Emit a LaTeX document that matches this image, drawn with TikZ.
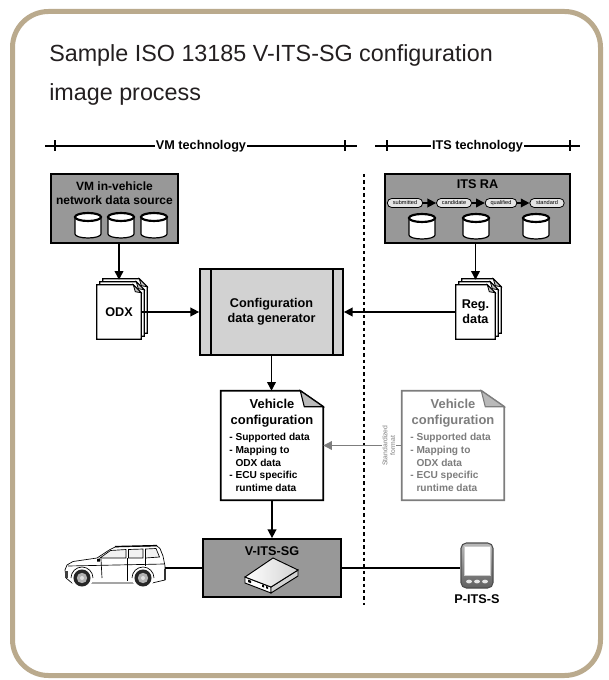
\documentclass[tikz,border=0pt]{standalone}
\usepackage{fontspec}
\setmainfont{Liberation Sans}
\usetikzlibrary{arrows.meta,positioning,calc,backgrounds}

\definecolor{frametan}{RGB}{186,170,141}
\definecolor{boxgray}{RGB}{152,152,152}
\definecolor{genfill}{RGB}{210,210,210}
\definecolor{ghost}{RGB}{125,125,125}
\definecolor{ink}{RGB}{35,31,32}

% one page of a document stack, shifted by (#2,-#3) from node #1
\newcommand{\pagesheet}[3]{%
  \draw[sheet] ($(#1.north west)+(#2,-#3)$) -- ($(#1.north east)+(#2-8,-#3)$)
    -- ($(#1.north east)+(#2,8-#3)$) -- ($(#1.south east)+(#2,-#3)$)
    -- ($(#1.south west)+(#2,-#3)$) -- cycle;
  \filldraw[fill=gray!50, line width=0.6pt] ($(#1.north east)+(#2-8,-#3)$)
    -- ($(#1.north east)+(#2-6,7-#3)$) -- ($(#1.north east)+(#2,8-#3)$) -- cycle;}

% database drum centred at (#1,#2)
\newcommand{\dbdrum}[2]{%
  \draw[drum] (#1-13,#2-8) -- (#1-13,#2+9)
    arc[start angle=180, end angle=360, x radius=9.75pt, y radius=3pt]
    -- (#1+13,#2-8) -- cycle;
  \draw[drum, line width=1.6pt] (#1,#2-8) ellipse[x radius=9.75pt, y radius=3pt];}

% text of the vehicle configuration sheets
\newcommand{\cfgbody}{%
  {\centering\fontsize{9.7}{12}\selectfont Vehicle\\configuration\par}
  \vspace{2.5pt}
  {\fontsize{7.6}{9.5}\selectfont - Supported data\\- Mapping to\\\hphantom{- }ODX data\\
   - ECU specific\\\hphantom{- }runtime data\par}}

\begin{document}
\begin{tikzpicture}[x=0.75pt, y=-0.75pt,
  box/.style={draw, line width=1.3pt, fill=boxgray, inner sep=0pt},
  lbl/.style={font=\fontsize{9.5}{11.5}\selectfont\bfseries, align=center, inner sep=1pt},
  sheet/.style={draw, fill=white, line width=1pt},
  drum/.style={draw, fill=white, line width=0.9pt},
  pill/.style={draw, line width=0.6pt, fill=gray!20, rounded corners=3.3pt,
    minimum height=6.75pt, inner sep=0pt, font=\fontsize{4.2}{5}\selectfont},
  flow/.style={line width=1.1pt, -{Triangle[length=6.5pt, width=6.5pt]}},
  link/.style={line width=1.1pt},
  techline/.style={line width=1.4pt},
  techlabel/.style={fill=white, inner sep=0.6pt, font=\fontsize{9.5}{11}\selectfont\bfseries},
  divider/.style={line width=2pt, dash pattern=on 2.6pt off 2.2pt},
  cfgsheet/.style={minimum width=76.5pt, minimum height=81.75pt, text width=64pt,
    align=flush left, inner sep=0pt, font=\bfseries}]

\useasboundingbox (0,0) rectangle (608,680);
\draw[frametan, line width=3.75pt, rounded corners=27pt] (12.5,11.5) rectangle (600.5,675.5);

% title
\node[anchor=base west, inner sep=0pt, text=ink, font=\fontsize{17.5}{21}\selectfont] (title) at (49,62)
  {Sample ISO 13185 V-ITS-SG configuration};
\node[anchor=base west, inner sep=0pt, text=ink, font=\fontsize{17.5}{21}\selectfont] (title-2) at (49,101)
  {image process};

% technology ranges
\draw[techline] (45,146) -- node[techlabel] (vmtech) {VM technology} (357,146);
\draw[techline] (375,146) -- node[techlabel] (itstech) {ITS technology} (580,146);
\foreach \x in {55,345,387,570}
  \draw[techline] (\x,140.5) -- (\x,151.5);

\draw[divider] (364,174) -- (364,605);

% VM data source
\node[box, minimum width=95.25pt, minimum height=51.75pt] (vmsrc) at (114.5,208.5) {};
\node[lbl, font=\fontsize{9}{10.5}\selectfont\bfseries, below=5pt of vmsrc.north] (vmsrc-title)
  {VM in-vehicle\\network data source};
\foreach \x in {88,121,154} {\dbdrum{\x}{225}}

% ITS registration authority
\node[box, minimum width=138.75pt, minimum height=51.75pt] (itsra) at (477.5,208.5) {};
\node[lbl, below=4pt of itsra.north] (itsra-title) {ITS RA};
\node[pill, minimum width=26.5pt] (st-sub) at (405,203) {submitted};
\node[pill, minimum width=26.25pt] (st-cand) at (454,203) {candidate};
\node[pill, minimum width=23.75pt] (st-qual) at (501,203) {qualified};
\node[pill, minimum width=25.75pt] (st-std) at (547,203) {standard};
\draw[flow] (st-sub) -- (st-cand);
\draw[flow] (st-cand) -- (st-qual);
\draw[flow] (st-qual) -- (st-std);
\foreach \x in {422,476,536} {\dbdrum{\x}{226}}

% documents
\node[lbl, minimum width=33pt, minimum height=40.5pt] (odx) at (119,312) {ODX};
\node[lbl, minimum width=29.25pt, minimum height=40.5pt] (regdata) at (475.5,312) {Reg.\\data};
\node[box, fill=genfill, minimum width=107.25pt, minimum height=64.5pt, lbl] (cfggen) at (271.5,312)
  {Configuration\\data generator};
\draw[line width=1.3pt] ($(cfggen.north west)+(12,0)$) -- ($(cfggen.south west)+(12,0)$);
\draw[line width=1.3pt] ($(cfggen.north east)+(-11,0)$) -- ($(cfggen.south east)+(-11,0)$);

\node[cfgsheet] (vehcfg) at (272,445.5) {\cfgbody};
\node[cfgsheet, text=ghost] (stdcfg) at (453,445.5) {\cfgbody};

\begin{scope}[on background layer]
  \foreach \nd in {odx,regdata}
    \foreach \shft in {6,3,0} {\pagesheet{\nd}{\shft}{\shft}}
  \foreach \nd/\col in {vehcfg/black, stdcfg/ghost} {
    \draw[sheet, draw=\col, line width=1.3pt] (\nd.north west) -- ($(\nd.north east)+(-23,0)$)
      -- ($(\nd.north east)+(0,16)$) -- (\nd.south east) -- (\nd.south west) -- cycle;
    \filldraw[draw=\col, fill=gray!55, line width=0.8pt] ($(\nd.north east)+(-23,0)$)
      -- ($(\nd.north east)+(-19,16)$) -- ($(\nd.north east)+(0,16)$) -- cycle;
  }
\end{scope}

% gateway
\node[box, minimum width=103.5pt, minimum height=43.5pt] (vitssg) at (272,568) {};
\node[lbl, below=5pt of vitssg.north] (vitssg-title) {V-ITS-SG};
\begin{scope}[shift={(271,578)}, line width=0.7pt]
  \filldraw[fill=white] (-26,-1) -- (0,9) -- (0,15) -- (-26,5) -- cycle;
  \filldraw[fill=gray!35] (0,9) -- (27,-8) -- (27,-2) -- (0,15) -- cycle;
  \filldraw[left color=white, right color=gray!35] (-26,-1) -- (2,-20) -- (27,-8) -- (0,9) -- cycle;
  \fill (-23,1.5) -- (-20,2.7) -- (-20,5.2) -- (-23,4) -- cycle;
  \fill (-9,6.5) -- (-7,7.3) -- (-7,9.5) -- (-9,8.7) -- cycle;
  \fill (-5,8) -- (-3,8.8) -- (-3,11) -- (-5,10.2) -- cycle;
\end{scope}

% vehicle
\node[minimum width=75pt, minimum height=30pt, inner sep=0pt] (car) at (115,568) {};
\begin{scope}[line width=0.5pt]
  \filldraw[fill=white] (66,578) -- (65,570) -- (67,565) -- (73,561.5) -- (97,558) -- (110,549.5)
    -- (115,547) -- (157,546) -- (160,548.5) -- (163,556) -- (165,566) -- (165,580)
    -- (152,583) -- (72,583) -- cycle;
  \filldraw[fill=gray!10] (100,558) -- (110.5,550.5) -- (126,549.5) -- (126,558) -- cycle;
  \filldraw[fill=gray!10] (128.5,549.5) -- (143,549) -- (143,558) -- (128.5,558) -- cycle;
  \filldraw[fill=gray!10] (145.5,549) -- (156,548.5) -- (159.5,557) -- (145.5,558) -- cycle;
  \draw (68,566) -- (164,564);
  \draw (101,559) -- (102,578);
  \draw (127,558) -- (127,581);
  \draw (145,558) -- (145,566);
  \draw[line width=0.9pt] (115,546.5) -- (157,545.5);
  \fill[black!80] (163.5,569) rectangle (166,580);
  \fill[black!75] (65,571) rectangle (68,578);
  \fill (97,559) -- (100,558.5) -- (100,561.5) -- (97,561.5) -- cycle;
  \foreach \wx in {82,143} {
    \fill[white] (\wx,578) circle[radius=8.25pt];
    \draw (\wx+11,578) arc[start angle=0, end angle=180, radius=8.25pt];
    \fill[black!85] (\wx,578) circle[radius=6.4pt];
    \fill[gray!60] (\wx,578) circle[radius=3.9pt];
    \fill[gray!25] (\wx,578) circle[radius=1.5pt];
  }
\end{scope}

% personal ITS station
\node[minimum width=24pt, minimum height=33.75pt, rounded corners=4pt, draw=gray!60!black,
  line width=0.8pt, top color=gray!55, bottom color=gray!75!black, inner sep=0pt] (pits) at (477,565.5) {};
\filldraw[fill=white, draw=gray!40, line width=0.5pt] ($(pits.north west)+(3.5,4)$)
  rectangle ($(pits.north east)+(-3.5,33)$);
\foreach \dx in {-8,0,8}
  \fill[gray!20] ($(pits.south)+(\dx,-7)$) ellipse[x radius=2.2pt, y radius=1.4pt];
\node[lbl] (pits-name) at (477,599) {P-ITS-S};

% connectors
\draw[flow] (vmsrc.south -| odx.north) -- ($(odx.north)+(0,-5)$);
\draw[flow] (itsra.south -| regdata.north) -- ($(regdata.north)+(0,-5)$);
\draw[flow] (odx.east) -- (odx.east -| cfggen.west);
\draw[flow] (regdata.west) -- (regdata.west -| cfggen.east);
\draw[flow] (cfggen.south) -- (cfggen.south |- vehcfg.north);
\draw[flow] (vehcfg.south) -- (vehcfg.south |- vitssg.north);
\draw[flow, ghost] (stdcfg.west) -- node[pos=0.165, fill=white, rotate=90, inner sep=0.5pt,
  font=\fontsize{5.1}{5.8}\selectfont, text=ghost, align=center] (stdfmt) {Standardized\\format}
  (stdcfg.west -| vehcfg.east);
\draw[link] (car.east) -- (car.east -| vitssg.west);
\draw[link] (vitssg.east) -- (vitssg.east -| pits.west);
\end{tikzpicture}
\end{document}
